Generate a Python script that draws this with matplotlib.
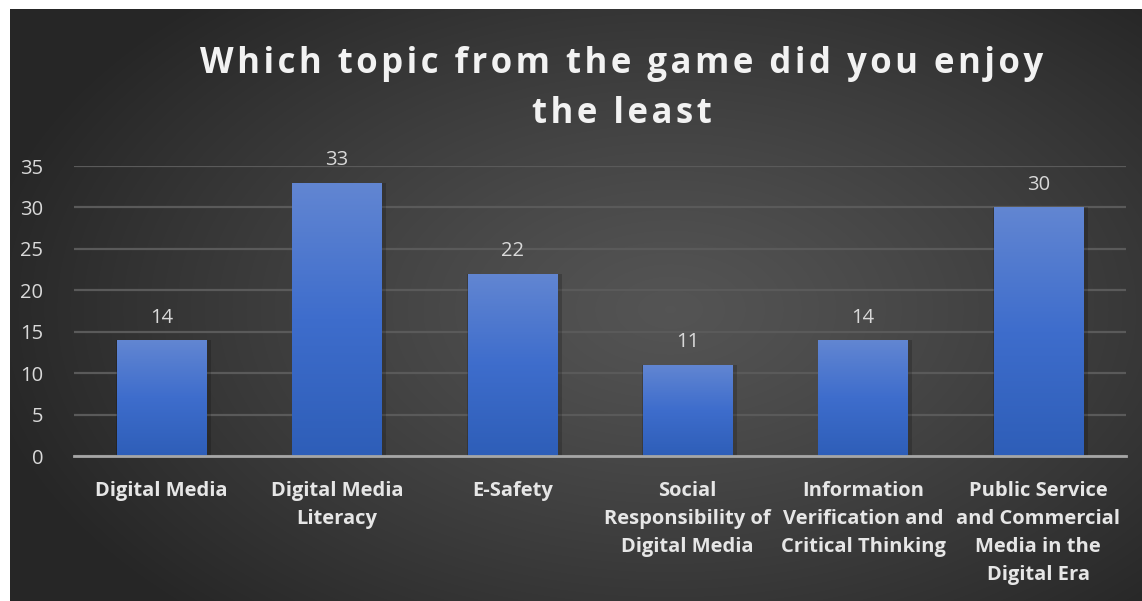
import numpy as np
import matplotlib
matplotlib.use("Agg")
import matplotlib.pyplot as plt

# data
categories = ["Digital Media", "Digital Media\nLiteracy", "E-Safety",
              "Social\nResponsibility of\nDigital Media",
              "Information\nVerification and\nCritical Thinking",
              "Public Service\nand Commercial\nMedia in the\nDigital Era"]
values = [14, 33, 22, 11, 14, 30]
yticks = [0, 5, 10, 15, 20, 25, 30, 35]
title_lines = ["Which topic from the game did you enjoy", "the least"]

W, H = 1142, 601
fig = plt.figure(figsize=(W / 100, H / 100), dpi=100)
fig.patch.set_facecolor("white")

# %% dark radial background panel
bg = fig.add_axes([10 / W, 0, 1 - 10 / W, (H - 9) / H])
bg.set_axis_off()
yy, xx = np.mgrid[0:592, 0:1132]
cx, cy = 660, 300
r = np.sqrt(((xx - cx) / 700) ** 2 + ((yy - cy) / 420) ** 2)
r = np.clip(r, 0, 1)
lo, hi = 0.15, 0.33
shade = hi - (hi - lo) * r ** 1.2
img = np.dstack([shade, shade, shade])
bg.imshow(img, aspect="auto", interpolation="bilinear")

# %% main chart
ax = fig.add_axes([74 / W, 1 - 456 / H, (1126 - 74) / W, (456 - 166) / H])
ax.set_facecolor("none")
x = np.arange(len(values))
bars = ax.bar(x, values, width=0.51, color="#3d6ccc", zorder=3)

# vertical gradient for bar fill
top = np.array([0x62, 0x86, 0xd2]) / 255
mid = np.array([0x3e, 0x6d, 0xcc]) / 255
bot = np.array([0x2e, 0x5e, 0xb8]) / 255
g = np.linspace(0, 1, 256)
rgb = np.zeros((256, 1, 3))
for k in range(3):
    rgb[:, 0, k] = np.interp(g, [0, 0.5, 1], [top[k], mid[k], bot[k]])

for b in bars:
    x0, w, h = b.get_x(), b.get_width(), b.get_height()
    # soft shadow
    ax.bar(x0 + w / 2 + 0.012, h, width=w + 0.03, color="black", alpha=0.18, zorder=2)
    im = ax.imshow(rgb, extent=[x0, x0 + w, 0, h], aspect="auto", zorder=4,
                   interpolation="bilinear")
    im.set_clip_path(b)
    ax.text(x0 + w / 2, h + 1.5, str(int(h)), ha="center", va="bottom",
            color="#d9d9d9", fontsize=14.5, family="Open Sans", zorder=5)

ax.set_xlim(-0.5, len(values) - 0.5)
ax.set_ylim(0, 35)
ax.set_yticks(yticks)
ax.set_yticklabels([str(t) for t in yticks], color="#d9d9d9", fontsize=14.5,
                   family="Open Sans")
ax.set_xticks(x)
ax.set_xticklabels(categories, color="#e6e6e6", fontsize=14.5, fontweight="bold",
                   family="Open Sans", linespacing=1.53, va="top")
ax.tick_params(axis="both", length=0)
ax.tick_params(axis="y", pad=22)
ax.tick_params(axis="x", pad=18)
ax.grid(axis="y", color="#5a5a5a", linewidth=1.6, zorder=0)
for s in ["top", "right", "left"]:
    ax.spines[s].set_visible(False)
ax.spines["bottom"].set_color("#a6a6a6")
ax.spines["bottom"].set_linewidth(2)
ax.spines["bottom"].set_zorder(6)

# letter-spaced title (hair spaces between letters)
hair = "\u200a"
title = "\n".join(hair.join(line) for line in title_lines)
fig.text(622 / W, 1 - 89 / H, title, ha="center", va="center", color="#f2f2f2",
         fontsize=25, fontweight="bold", family=["Open Sans", "DejaVu Sans"],
         linespacing=1.55)

fig.savefig("out.png", dpi=100, facecolor=fig.get_facecolor())
